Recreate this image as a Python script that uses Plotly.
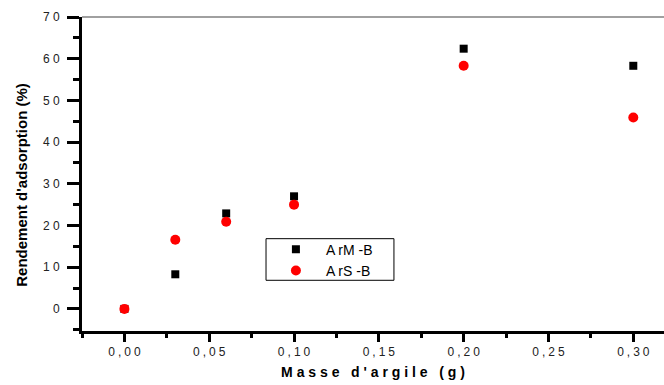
import plotly.graph_objects as go

# Adsorption yield versus clay mass for the two clays
masse = [0.00, 0.03, 0.06, 0.10, 0.20, 0.30]
arm_b = [0.0, 8.3, 22.9, 27.0, 62.4, 58.3]
ars_b = [0.0, 16.6, 20.9, 25.0, 58.3, 45.9]

x_ticks = [0.00, 0.05, 0.10, 0.15, 0.20, 0.25, 0.30]
x_tick_text = ["0,00", "0,05", "0,10", "0,15", "0,20", "0,25", "0,30"]
y_ticks = [0, 10, 20, 30, 40, 50, 60, 70]
y_tick_text = ["0", "10", "20", "30", "40", "50", "60", "70"]


def spaced(s, gap):
    return gap.join(list(s))


FONT = "Liberation Sans, Arial, sans-serif"

fig = go.Figure()
fig.add_trace(go.Scatter(
    x=masse, y=arm_b, mode="markers", name="A rM -B",
    marker=dict(symbol="square", size=8, color="black"),
))
fig.add_trace(go.Scatter(
    x=masse, y=ars_b, mode="markers", name="A rS -B",
    marker=dict(symbol="circle", size=10, color="#ff0000"),
))

fig.update_layout(
    width=664, height=385,
    margin=dict(l=82, r=0, t=17, b=54),
    paper_bgcolor="white", plot_bgcolor="white",
    font=dict(family=FONT, size=12, color="#222222"),
    showlegend=True,
    legend=dict(
        x=0.316, y=0.31, xanchor="left", yanchor="top",
        borderwidth=0, bgcolor="rgba(0,0,0,0)",
        font=dict(family=FONT, size=14, color="black"),
        itemwidth=50, tracegroupgap=0,
    ),
    xaxis=dict(
        range=[-0.025, 0.3181],
        tickmode="array", tickvals=x_ticks,
        ticktext=[spaced(t, "\u2005") for t in x_tick_text],
        ticks="outside", ticklen=8, tickwidth=2.5, tickcolor="black",
        minor=dict(dtick=0.025, tick0=0, ticks="outside", ticklen=4,
                   tickwidth=2.5, tickcolor="black"),
        showline=True, linecolor="black", linewidth=2.5,
        showgrid=False, zeroline=False,
        tickfont=dict(size=12, color="#222222"),
        title=dict(text="<b>" + " ".join(list("Masse d'argile (g)")) + "</b>",
                   font=dict(size=14, color="black"), standoff=10),
    ),
    yaxis=dict(
        range=[-5.3, 70],
        tickmode="array", tickvals=y_ticks,
        ticktext=[spaced(t, " ") for t in y_tick_text],
        ticks="outside", ticklen=12, tickwidth=3, tickcolor="black",
        ticklabelstandoff=5,
        minor=dict(dtick=5, tick0=0, ticks="outside", ticklen=6,
                   tickwidth=3, tickcolor="black"),
        showline=True, linecolor="black", linewidth=3,
        showgrid=False, zeroline=False,
        tickfont=dict(size=12, color="#222222"),
    ),
    annotations=[dict(
        text="<b>Rendement d'adsorption (%)</b>",
        xref="paper", yref="paper", x=-0.103, y=0.466,
        xanchor="center", yanchor="middle", textangle=-90,
        showarrow=False, font=dict(family=FONT, size=15, color="black"),
    )],
    shapes=[
        # thin grey frame line along the top of the plot area
        dict(type="line", xref="paper", yref="paper",
             x0=0, x1=1, y0=1, y1=1,
             line=dict(color="#808080", width=1.5)),
        # legend frame
        dict(type="rect", xref="paper", yref="paper",
             x0=0.3162, x1=0.536, y0=0.1615, y1=0.294,
             line=dict(color="black", width=1), fillcolor="white",
             layer="below"),
    ],
)

fig.write_html("out.html")
